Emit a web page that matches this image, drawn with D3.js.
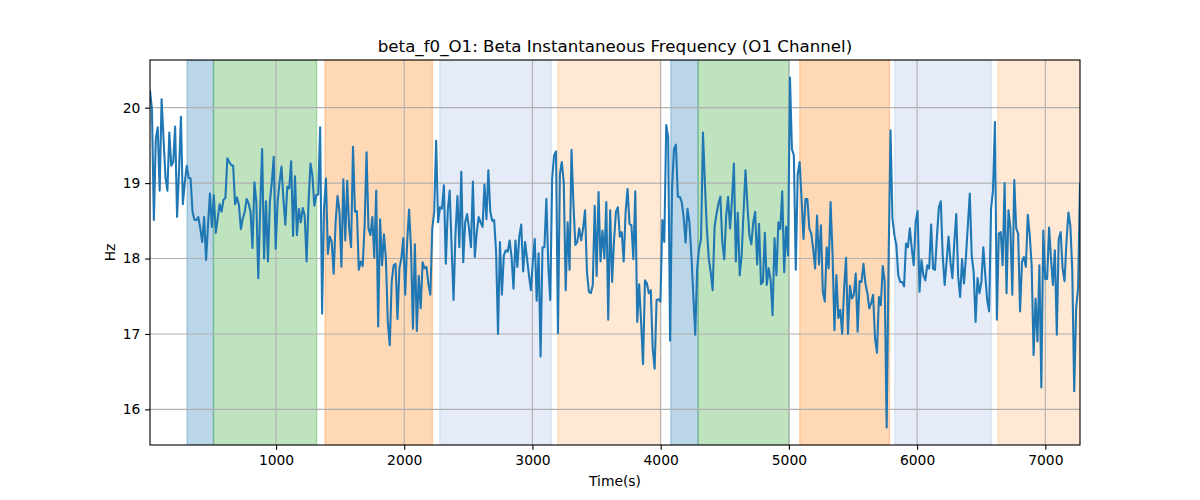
<!DOCTYPE html>
<html>
<head>
<meta charset="utf-8">
<script src="https://cdn.jsdelivr.net/npm/d3@7"></script>
<style>
  body { margin: 0; background: #fff; }
  svg { display: block; font-family: "DejaVu Sans", sans-serif; }
</style>
</head>
<body>
<svg id="chart" width="1200" height="500"></svg>
<script>
// ---- data ----
const chartTitle = "beta_f0_O1: Beta Instantaneous Frequency (O1 Channel)";
const xLabel = "Time(s)";
const yLabel = "Hz";
const tStart = 17;
const tStep = 15.08;
const values = [
20.22,19.98,18.51,19.59,19.74,18.90,20.11,19.59,19.08,18.90,19.67,19.23,19.28,19.75,18.55,19.15,19.88,18.72,19.01,19.23,19.07,19.06,18.62,18.51,18.51,18.55,18.40,18.22,18.55,17.98,18.44,18.86,18.42,18.84,18.34,18.53,18.72,18.62,18.78,18.80,19.33,19.28,19.24,19.23,18.72,18.81,18.71,18.39,
18.53,18.62,18.79,18.73,18.62,18.14,19.01,18.75,17.74,18.68,19.45,18.00,18.76,17.96,18.75,19.01,19.35,18.13,18.75,19.01,19.22,18.79,18.45,18.95,18.93,19.29,18.30,19.09,18.31,18.66,18.48,18.67,18.57,17.96,18.75,19.26,19.10,18.70,18.84,18.85,19.74,17.27,18.66,19.06,18.06,18.29,18.22,17.80,
18.48,18.83,18.62,17.89,19.05,18.24,19.03,18.40,18.15,19.48,18.62,18.63,17.85,17.96,17.90,18.44,19.41,18.40,18.31,18.55,18.01,18.90,17.10,18.52,17.91,18.32,18.00,17.16,16.85,17.69,17.91,17.93,17.20,17.87,18.00,18.27,17.52,18.22,18.65,18.13,17.07,18.19,17.04,17.77,17.34,17.95,17.87,17.89,
17.66,17.52,18.40,18.62,19.56,18.48,18.68,18.66,18.97,17.93,18.63,18.90,18.15,17.45,18.33,18.83,18.15,19.15,17.95,18.48,18.59,18.40,18.15,19.02,18.02,18.35,18.55,18.48,18.42,18.98,18.52,19.17,18.62,18.50,18.51,18.09,17.00,18.22,17.52,18.04,18.11,18.09,18.24,18.02,17.60,18.24,17.89,18.29,
18.45,17.83,18.22,18.00,17.78,17.58,17.96,18.26,17.44,18.07,16.70,18.15,18.15,18.79,17.91,17.45,19.06,19.37,19.42,17.01,19.12,19.28,19.01,17.58,18.48,17.85,19.44,18.73,18.18,18.22,18.40,18.24,18.40,18.64,17.82,17.56,17.54,17.65,18.70,17.77,18.88,17.96,18.37,18.00,18.75,17.19,
18.64,17.69,18.24,18.62,18.68,18.29,18.35,17.96,18.62,18.92,18.46,18.44,17.99,18.89,17.16,17.66,17.16,16.60,17.71,17.67,17.54,17.58,16.81,16.54,17.45,17.46,17.43,18.51,18.22,19.77,19.61,16.91,18.93,19.45,19.51,18.82,18.82,18.75,18.55,18.21,18.66,18.48,18.04,17.52,16.99,17.87,18.13,18.26,
19.67,18.99,18.40,18.00,17.82,17.58,18.42,18.59,18.73,18.82,18.22,17.99,18.57,18.82,18.40,18.77,19.26,17.96,18.61,17.78,18.04,18.62,19.17,18.70,18.31,18.19,18.48,18.62,17.92,18.46,17.66,17.69,18.34,17.65,17.87,17.71,17.25,18.27,17.78,18.48,18.39,18.89,17.82,18.42,18.04,20.40,19.45,
19.37,17.85,19.12,19.28,18.79,18.26,18.79,18.79,18.40,18.33,18.13,17.87,18.57,17.92,18.44,17.56,17.43,18.15,17.87,18.75,18.07,17.05,17.78,17.21,17.32,17.00,17.60,18.01,17.00,17.64,17.47,17.52,17.80,17.03,17.70,17.69,17.93,17.67,17.55,17.34,17.41,17.52,16.94,16.75,17.49,17.38,17.90,17.69,15.76,
17.96,19.70,18.53,18.31,18.18,17.78,17.69,17.69,17.63,18.20,18.15,18.40,18.13,17.91,18.48,18.63,17.56,17.98,17.78,17.71,17.91,17.87,18.45,17.87,17.85,18.29,18.68,18.76,18.04,17.65,17.96,18.29,17.96,17.74,18.22,18.59,17.76,17.49,17.99,17.67,18.02,18.44,18.86,18.04,17.82,17.16,17.74,
17.54,17.69,18.15,17.78,17.45,17.30,18.66,18.90,19.81,17.19,18.33,18.35,17.91,19.00,17.54,18.64,18.40,17.52,19.04,18.40,18.33,17.30,17.96,18.02,17.89,18.58,18.31,17.91,16.72,17.47,16.90,17.91,16.29,18.37,17.73,17.73,18.41,18.00,17.65,18.11,16.99,18.26,18.35,17.87,17.70,18.22,18.61,18.44,17.85,16.24,17.34,17.60,18.99
];
const bandStarts = [306, 512, 1382, 2277, 3197, 4079, 4292, 5085, 5826, 6629];
const bandEnds   = [512, 1317, 2220, 3148, 3998, 4292, 5002, 5785, 6580, 7400];
const bandKinds  = ["blue", "green", "orange", "lightblue", "lightorange", "blue", "green", "orange", "lightblue", "lightorange"];
const xTickValues = [1000, 2000, 3000, 4000, 5000, 6000, 7000];
const yTickValues = [16, 17, 18, 19, 20];

// ---- styles ----
const bandStyle = {
  blue:        { color: "#1f77b4", alpha: 0.3 },
  green:       { color: "#2ca02c", alpha: 0.3 },
  orange:      { color: "#ff7f0e", alpha: 0.3 },
  lightblue:   { color: "#6f95d8", alpha: 0.18 },
  lightorange: { color: "#fd8f2c", alpha: 0.2 }
};
const PT = 100 / 72;

const points = values.map((v, i) => ({ t: tStart + i * tStep, v }));

const margin = { left: 150, right: 120, top: 60, bottom: 55 };
const W = 1200, H = 500;
const iw = W - margin.left - margin.right;  // 930
const ih = H - margin.top - margin.bottom;  // 385

const svg = d3.select("#chart");
const g = svg.append("g").attr("transform", `translate(${margin.left},${margin.top})`);

const xExt = d3.extent(points, d => d.t);
const yExt = d3.extent(points, d => d.v);
const pad = (yExt[1] - yExt[0]) * 0.05;

const x = d3.scaleLinear().domain(xExt).range([0, iw]);
const y = d3.scaleLinear().domain([yExt[0] - pad, yExt[1] + pad]).range([ih, 0]);

g.append("defs").append("clipPath").attr("id", "clip")
  .append("rect").attr("width", iw).attr("height", ih);

// bands
const bands = bandStarts.map((s, i) => ({ s, e: bandEnds[i], k: bandKinds[i] }));
g.append("g").attr("clip-path", "url(#clip)")
  .selectAll("rect").data(bands).join("rect")
  .attr("x", d => x(d.s))
  .attr("width", d => x(d.e) - x(d.s))
  .attr("y", 0).attr("height", ih)
  .attr("fill", d => bandStyle[d.k].color)
  .attr("fill-opacity", d => bandStyle[d.k].alpha)
  .attr("stroke", d => bandStyle[d.k].color)
  .attr("stroke-opacity", d => bandStyle[d.k].alpha)
  .attr("stroke-width", PT);

// grid
const grid = g.append("g");
grid.selectAll("line.gx").data(xTickValues).join("line")
  .attr("x1", d => x(d)).attr("x2", d => x(d))
  .attr("y1", 0).attr("y2", ih)
  .attr("stroke", "#b0b0b0").attr("stroke-width", 0.8 * PT);
grid.selectAll("line.gy").data(yTickValues).join("line")
  .attr("x1", 0).attr("x2", iw)
  .attr("y1", d => y(d)).attr("y2", d => y(d))
  .attr("stroke", "#b0b0b0").attr("stroke-width", 0.8 * PT);

// line
g.append("path").datum(points)
  .attr("clip-path", "url(#clip)")
  .attr("fill", "none")
  .attr("stroke", "#1f77b4")
  .attr("stroke-width", 1.5 * PT)
  .attr("stroke-linejoin", "round")
  .attr("stroke-linecap", "square")
  .attr("d", d3.line().x(d => x(d.t)).y(d => y(d.v)));

// axes
const xAxis = d3.axisBottom(x).tickValues(xTickValues).tickFormat(d3.format("d")).tickSize(3.5 * PT).tickPadding(3.5 * PT);
const yAxis = d3.axisLeft(y).tickValues(yTickValues).tickFormat(d3.format("d")).tickSize(3.5 * PT).tickPadding(3.5 * PT);

const gx = g.append("g").attr("transform", `translate(0,${ih})`).call(xAxis);
const gy = g.append("g").call(yAxis);
[gx, gy].forEach(a => {
  a.select(".domain").remove();
  a.selectAll(".tick line").attr("stroke", "#000").attr("stroke-width", 0.8 * PT);
  a.selectAll(".tick text").attr("fill", "#000").style("font-size", (10 * PT) + "px").style("font-family", "DejaVu Sans");
});

// spines
g.append("rect").attr("width", iw).attr("height", ih)
  .attr("fill", "none").attr("stroke", "#000").attr("stroke-width", 0.8 * PT);

// labels
svg.append("text").attr("x", margin.left + iw / 2).attr("y", 52)
  .attr("text-anchor", "middle").style("font-size", (12 * PT) + "px").text(chartTitle);
svg.append("text").attr("x", margin.left + iw / 2).attr("y", 486)
  .attr("text-anchor", "middle").style("font-size", (10 * PT) + "px").text(xLabel);
svg.append("text").attr("transform", `translate(115,${margin.top + ih / 2}) rotate(-90)`)
  .attr("text-anchor", "middle").style("font-size", (10 * PT) + "px").text(yLabel);
</script>
</body>
</html>
